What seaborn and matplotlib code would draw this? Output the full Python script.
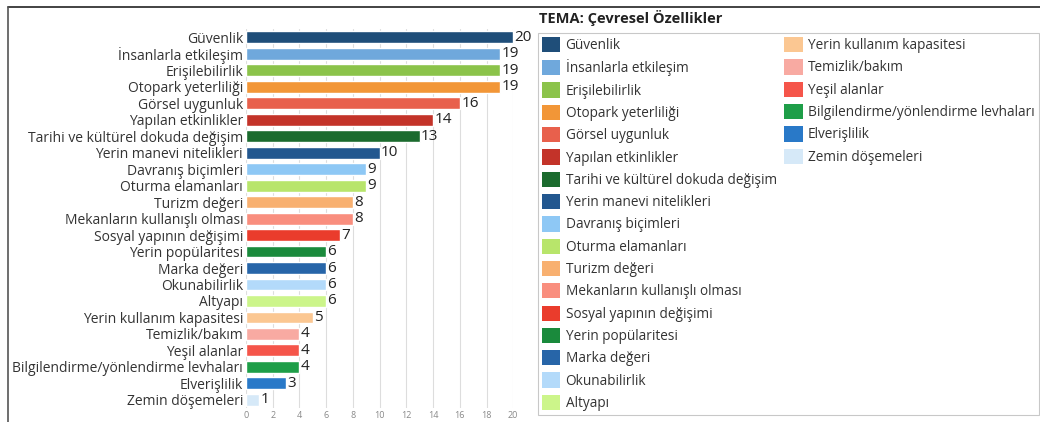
import matplotlib.pyplot as plt
import matplotlib.patches as mpatches
import seaborn as sns

categories = [
    "Güvenlik", "İnsanlarla etkileşim", "Erişilebilirlik", "Otopark yeterliliği",
    "Görsel uygunluk", "Yapılan etkinlikler", "Tarihi ve kültürel dokuda değişim",
    "Yerin manevi nitelikleri", "Davranış biçimleri", "Oturma elamanları",
    "Turizm değeri", "Mekanların kullanışlı olması", "Sosyal yapının değişimi",
    "Yerin popülaritesi", "Marka değeri", "Okunabilirlik", "Altyapı",
    "Yerin kullanım kapasitesi", "Temizlik/bakım", "Yeşil alanlar",
    "Bilgilendirme/yönlendirme levhaları", "Elverişlilik", "Zemin döşemeleri",
]
counts = [20, 19, 19, 19, 16, 14, 13, 10, 9, 9, 8, 8, 7, 6, 6, 6, 6, 5, 4, 4, 4, 3, 1]
colors = [
    "#1f4e79", "#6fa8dc", "#8bc34a", "#f29637", "#e8604c", "#c33329", "#1b6b2e",
    "#22578f", "#8ec8f5", "#b8e56b", "#f8b070", "#f98e7e", "#ea3c2c", "#1a8a3c",
    "#2765a8", "#b3dafa", "#ccf58a", "#fbc792", "#f8aaa2", "#f5554a", "#1e9e48",
    "#2979c8", "#d6e9f8",
]
title = "TEMA: Çevresel Özellikler"
x_ticks = list(range(0, 21, 2))

sns.set_theme(style="white")
plt.rcParams["font.family"] = ["Open Sans", "DejaVu Sans"]

fig = plt.figure(figsize=(10.4, 4.22), dpi=100)
ax = fig.add_axes([0.2365, 0.033, 0.257, 0.898])

palette = dict(zip(categories, colors))
sns.barplot(x=counts, y=categories, hue=categories, palette=palette,
            orient="h", width=0.72, legend=False, saturation=1, ax=ax)

for cont in ax.containers:
    ax.bar_label(cont, fontsize=11, color="#222222", padding=1)

ax.set_xlim(0, 20)
ax.set_xticks(x_ticks)
ax.tick_params(axis="x", labelsize=6.5, colors="#888888", length=0, pad=2)
ax.tick_params(axis="y", labelsize=10, colors="#333333", length=0, pad=2)
ax.grid(axis="x", color="#dddddd", linewidth=0.8)
ax.set_axisbelow(True)
for s in ax.spines.values():
    s.set_visible(False)
ax.set_xlabel("")
ax.set_ylabel("")

fig.text(0.606, 0.957, title, ha="center", va="center",
         fontsize=10.5, fontweight="bold", color="#222222")

# legend: 17 entries in first column, 6 in second
handles = [mpatches.Patch(facecolor=c, edgecolor="none") for c in colors]
blank = mpatches.Patch(facecolor="none", edgecolor="none")
h = handles[:17] + handles[17:] + [blank] * 11
lab = categories[:17] + categories[17:] + [""] * 11
leg = fig.legend(h, lab, loc="upper left", bbox_to_anchor=(0.517, 0.922),
                 ncol=2, fontsize=9.8, frameon=True, fancybox=False,
                 handlelength=1.35, handleheight=1.35, handletextpad=0.4,
                 labelspacing=0.45, columnspacing=0.55, borderpad=0.3,
                 borderaxespad=0)
leg.get_frame().set_edgecolor("#bbbbbb")
leg.get_frame().set_linewidth(0.8)
for t in leg.get_texts():
    t.set_color("#333333")

# outer frame lines
fig.add_artist(plt.Line2D([0.008, 1.0], [0.983, 0.983], color="#222222",
                          linewidth=1.2, transform=fig.transFigure))
fig.add_artist(plt.Line2D([0.008, 0.008], [0.0, 0.983], color="#555555",
                          linewidth=1.2, transform=fig.transFigure))

fig.savefig("out.png", dpi=100)
